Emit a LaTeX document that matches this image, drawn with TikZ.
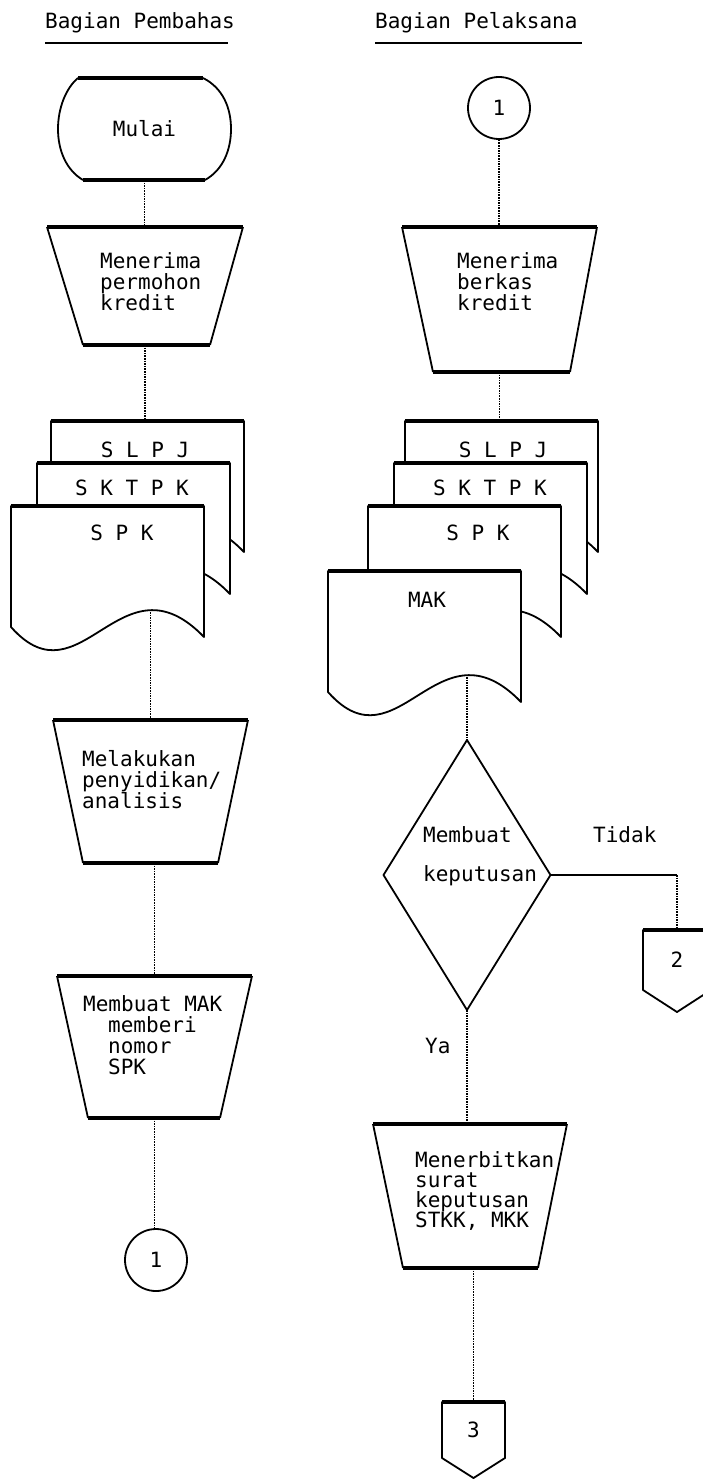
\documentclass[tikz,border=0pt]{standalone}
\usepackage{fontspec}
\setmonofont{DejaVu Sans Mono}
\usepackage{tikz}
\usetikzlibrary{calc, positioning}
\tikzset{
  shapebox/.style 2 args={rectangle, inner sep=0pt, outer sep=0pt, minimum width=#1, minimum height=#2},
  txt/.style={font=\ttfamily\fontsize{21}{21}\selectfont, inner sep=0pt, align=left},
  shapeline/.style={line width=1.8pt, line join=round},
  topline/.style={line width=3.5pt},
  flow/.style={dash pattern=on 1.6pt off 1pt, line width=1.5pt},
  docfill/.style={shapeline, fill=white}
}

\begin{document}
\begin{tikzpicture}[x=1pt, y=-1pt]
        \useasboundingbox (0,0) rectangle (702,1479);

        % Judul kolom
        \node[txt, anchor=base west] (jpemb) at (45,29) {Bagian Pembahas};
        \node[txt, anchor=base west] (jpel) at (375,29) {Bagian Pelaksana};
        \draw[line width=1.3pt] (45,43) -- (228,43);
        \draw[line width=1.3pt] (375,43) -- (582,43);

        % ---------------- Bagian Pembahas ----------------
        % Mulai
        \node[shapebox={173pt}{102pt}, txt] (mulai) at (144.5,129) {Mulai};
        \draw[shapeline, shift={(mulai.north west)}] (145,0) .. controls (165,10) and (173,30) .. (173,51) .. controls (173,72) and (165,92) .. (147,102)
            (25,102) .. controls (8,92) and (0,72) .. (0,51) .. controls (0,30) and (8,10) .. (20,0);
        \draw[topline, shift={(mulai.north west)}] (20,0) -- (145,0) (25,102) -- (147,102);

        % Menerima permohon kredit
        \node[shapebox={196pt}{118pt}] (trima) at (145,286) {};
        \draw[shapeline, shift={(trima.north west)}] (0,0) -- (36,118) (196,0) -- (163,118);
        \draw[topline, shift={(trima.north west)}] (0,0) -- (196,0) (36,118) -- (163,118);
        \node[txt, anchor=north west] (ttrima) at (100,252) {Menerima\\permohon\\kredit};

        % Dokumen SLPJ, SKTPK, SPK
        \node[shapebox={193pt}{106pt}, anchor=north west] (lslpj) at (51,421) {};
        \node[shapebox={193pt}{106pt}, anchor=north west] (lsktpk) at (37,463) {};
        \node[shapebox={193pt}{106pt}, anchor=north west] (lspk) at (11,506) {};
        \draw[docfill, shift={(lslpj.north west)}] (0,0) -- (193,0) -- (193,131) .. controls (110,45) and (70,200) .. (0,121) -- cycle;
        \draw[topline] (lslpj.north west) -- (lslpj.north east);
        \draw[docfill, shift={(lsktpk.north west)}] (0,0) -- (193,0) -- (193,131) .. controls (110,45) and (70,200) .. (0,121) -- cycle;
        \draw[topline] (lsktpk.north west) -- (lsktpk.north east);
        \draw[docfill, shift={(lspk.north west)}] (0,0) -- (193,0) -- (193,131) .. controls (110,45) and (70,200) .. (0,121) -- cycle;
        \draw[topline] (lspk.north west) -- (lspk.north east);
        \node[txt] (tlslpj) at (145,450) {S L P J};
        \node[txt] (tlsktpk) at (132,488) {S K T P K};
        \node[txt] (tlspk) at (122,533) {S P K};

        % Melakukan penyidikan/analisis
        \node[shapebox={195pt}{143pt}] (lanal) at (150.5,791.5) {};
        \draw[shapeline, shift={(lanal.north west)}] (0,0) -- (30,143) (195,0) -- (165,143);
        \draw[topline, shift={(lanal.north west)}] (0,0) -- (195,0) (30,143) -- (165,143);
        \node[txt, anchor=north west] (tlanal) at (82,750) {Melakukan\\penyidikan/\\analisis};

        % Membuat MAK
        \node[shapebox={195pt}{142pt}] (lmak) at (154.5,1047) {};
        \draw[shapeline, shift={(lmak.north west)}] (0,0) -- (31,142) (195,0) -- (163,142);
        \draw[topline, shift={(lmak.north west)}] (0,0) -- (195,0) (31,142) -- (163,142);
        \node[txt, anchor=north west] (tlmak) at (83,995) {Membuat MAK\\\hspace*{25pt}memberi\\\hspace*{25pt}nomor\\\hspace*{25pt}SPK};

        % Penghubung 1
        \node[circle, draw, shapeline, minimum size=62pt, inner sep=0pt, txt] (lsam1) at (156,1260) {1};

        % Garis alir kiri
        \draw[flow] (mulai.south) -- (mulai.south |- trima.north);
        \draw[flow] (trima.south) -- (trima.south |- lslpj.north);
        \draw[flow] (lanal.north |- lspk.south) -- (lanal.north);
        \draw[flow] (lmak.north |- lanal.south) -- (lmak.north);
        \draw[flow] (lmak.south) -- (lmak.south |- lsam1.north);

        % ---------------- Bagian Pelaksana ----------------
        % Penghubung 1
        \node[circle, draw, shapeline, minimum size=62pt, inner sep=0pt, txt] (rsam1) at (499,108) {1};

        % Menerima berkas kredit
        \node[shapebox={195pt}{145pt}] (rtrima) at (499.5,299.5) {};
        \draw[shapeline, shift={(rtrima.north west)}] (0,0) -- (31,145) (195,0) -- (168,145);
        \draw[topline, shift={(rtrima.north west)}] (0,0) -- (195,0) (31,145) -- (168,145);
        \node[txt, anchor=north west] (trtrima) at (457,252) {Menerima\\berkas\\kredit};

        % Dokumen SLPJ, SKTPK, SPK, MAK
        \node[shapebox={193pt}{106pt}, anchor=north west] (rslpj) at (405,421) {};
        \node[shapebox={193pt}{106pt}, anchor=north west] (rsktpk) at (394,463) {};
        \node[shapebox={193pt}{106pt}, anchor=north west] (rspk) at (368,506) {};
        \node[shapebox={193pt}{106pt}, anchor=north west] (rmak) at (328,571) {};
        \draw[docfill, shift={(rslpj.north west)}] (0,0) -- (193,0) -- (193,131) .. controls (110,45) and (70,200) .. (0,121) -- cycle;
        \draw[topline] (rslpj.north west) -- (rslpj.north east);
        \draw[docfill, shift={(rsktpk.north west)}] (0,0) -- (193,0) -- (193,131) .. controls (110,45) and (70,200) .. (0,121) -- cycle;
        \draw[topline] (rsktpk.north west) -- (rsktpk.north east);
        \draw[docfill, shift={(rspk.north west)}] (0,0) -- (193,0) -- (193,131) .. controls (110,45) and (70,200) .. (0,121) -- cycle;
        \draw[topline] (rspk.north west) -- (rspk.north east);
        \draw[docfill, shift={(rmak.north west)}] (0,0) -- (193,0) -- (193,131) .. controls (110,45) and (70,200) .. (0,121) -- cycle;
        \draw[topline] (rmak.north west) -- (rmak.north east);
        \node[txt] (trslpj) at (503,450) {S L P J};
        \node[txt] (trsktpk) at (490,488) {S K T P K};
        \node[txt] (trspk) at (478,533) {S P K};
        \node[txt] (trmak) at (427,600) {MAK};

        % Membuat keputusan
        \node[shapebox={167pt}{270pt}] (rdec) at (467,875) {};
        \draw[shapeline] (rdec.north) -- (rdec.east) -- (rdec.south) -- (rdec.west) -- cycle;
        \node[txt, anchor=north west] (trdec) at (423,826) {Membuat\\[18pt]keputusan};
        \node[txt, anchor=north west] (tidak) at (593,826) {Tidak};
        \node[txt, anchor=north west] (ya) at (425,1038) {Ya};

        % Penghubung 2
        \node[shapebox={68pt}{60pt}, txt] (r2) at (677,960) {2};
        \draw[shapeline, shift={(r2.north west)}] (0,0) -- (68,0) -- (68,60) -- (34,82) -- (0,60) -- cycle;
        \draw[topline] (r2.north west) -- (r2.north east);

        % Menerbitkan surat keputusan
        \node[shapebox={194pt}{144pt}] (rterbit) at (470,1196) {};
        \draw[shapeline, shift={(rterbit.north west)}] (0,0) -- (30,144) (194,0) -- (165,144);
        \draw[topline, shift={(rterbit.north west)}] (0,0) -- (194,0) (30,144) -- (165,144);
        \node[txt, anchor=north west, font=\ttfamily\fontsize{21}{20}\selectfont] (trterbit) at (415,1151) {Menerbitkan\\surat\\keputusan\\STKK, MKK};

        % Penghubung 3
        \node[shapebox={63pt}{56pt}, txt] (r3) at (473.5,1430) {3};
        \draw[shapeline, shift={(r3.north west)}] (0,0) -- (63,0) -- (63,56) -- (31.5,76) -- (0,56) -- cycle;
        \draw[topline] (r3.north west) -- (r3.north east);

        % Garis alir kanan
        \draw[flow] (rsam1.south) -- (rsam1.south |- rtrima.north);
        \draw[flow] (rtrima.south) -- (rtrima.south |- rslpj.north);
        \draw[flow] (rdec.north |- rmak.south) -- (rdec.north);
        \draw[line width=1.2pt] (rdec.east) -- (r2.north |- rdec.east);
        \draw[flow] (r2.north |- rdec.east) -- (r2.north);
        \draw[flow] (rdec.south) -- (rdec.south |- rterbit.north);
        \draw[flow] (r3.north |- rterbit.south) -- (r3.north);
    \end{tikzpicture}
\end{document}
